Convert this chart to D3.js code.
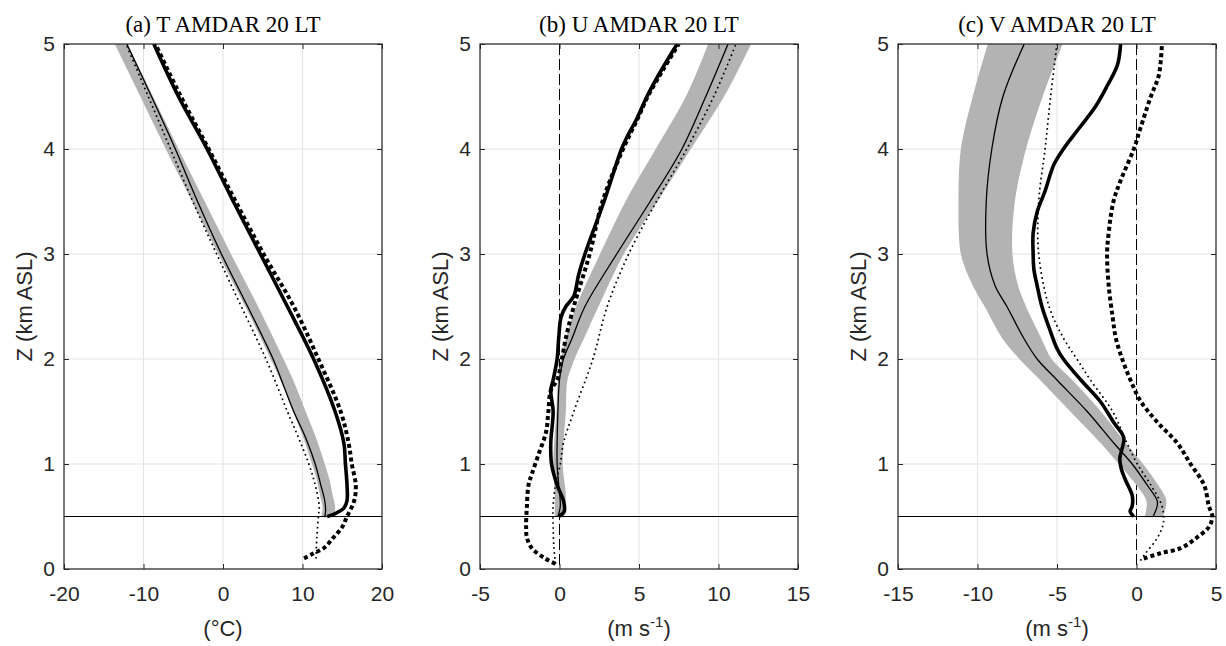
<!DOCTYPE html>
<html>
<head>
<meta charset="utf-8">
<script src="https://cdn.jsdelivr.net/npm/d3@7"></script>
<style>
  html, body { margin: 0; padding: 0; background: #fff; }
  svg { display: block; }
</style>
</head>
<body>
<svg id="chart" width="1226" height="646"></svg>
<script>
// ---------------- DATA ----------------
const panelTitles = ["(a) T AMDAR 20 LT", "(b) U AMDAR 20 LT", "(c) V AMDAR 20 LT"];
const xDomains = [[-20, 20], [-5, 15], [-15, 5]];
const xTickValues = [[-20, -10, 0, 10, 20], [-5, 0, 5, 10, 15], [-15, -10, -5, 0, 5]];
const yTickValues = [0, 1, 2, 3, 4, 5];
const yLabel = "Z (km ASL)";
const unitLabels = ["(°C)", "(m s", "(m s"];
const boundaryLayerZ = 0.5;

// Panel (a) temperature. [z, value]
const aBandZ  = [0.5, 0.6, 0.7, 0.85, 1.0, 1.25, 1.5, 1.75, 2.0, 2.5, 3.0, 3.5, 4.0, 4.5, 5.0];
const aBandLo = [12.5, 12.6, 12.3, 11.9, 11.3, 10.2, 8.9, 7.6, 6.1, 2.9, -0.5, -3.8, -7.1, -10.3, -13.5];
const aBandHi = [13.9, 14.0, 13.7, 13.3, 12.7, 11.6, 10.3, 9.0, 7.5, 4.3, 0.9, -2.4, -5.7, -8.9, -12.1];
const aThinSolid  = [[0.5, 12.8], [0.55, 12.9], [0.65, 12.8], [0.8, 12.3], [1.0, 11.6], [1.25, 10.4], [1.5, 8.9], [1.75, 7.6], [2.0, 6.3], [2.5, 3.1], [3.0, -0.2], [3.5, -3.2], [4.0, -6.0], [4.5, -9.0], [5.0, -12.1]];
const aThinDotted = [[0.1, 11.7], [0.3, 11.8], [0.5, 12.0], [0.6, 12.1], [0.8, 11.6], [1.0, 10.8], [1.25, 9.5], [1.5, 8.1], [2.0, 5.4], [2.5, 2.3], [3.0, -0.8], [3.5, -3.8], [4.0, -6.6], [4.5, -9.4], [5.0, -12.2]];
const aThickSolid = [[0.5, 13.1], [0.52, 13.9], [0.58, 15.2], [0.65, 15.6], [0.8, 15.6], [1.0, 15.4], [1.2, 15.2], [1.5, 14.1], [2.0, 11.4], [2.5, 8.1], [3.0, 4.7], [3.5, 1.3], [4.0, -2.0], [4.5, -5.6], [5.0, -8.7]];
const aThickDotted = [[0.1, 10.2], [0.15, 11.4], [0.2, 12.7], [0.3, 13.9], [0.4, 15.0], [0.5, 15.6], [0.65, 16.5], [0.8, 16.7], [1.0, 16.2], [1.2, 15.8], [1.5, 14.8], [2.0, 12.0], [2.5, 8.9], [3.0, 5.1], [3.5, 1.6], [4.0, -1.8], [4.5, -5.3], [5.0, -8.5]];

// Panel (b) zonal wind U
const bBandZ  = [0.5, 0.7, 1.0, 1.5, 1.8, 2.0, 2.2, 2.5, 3.0, 3.5, 4.0, 4.5, 5.0];
const bBandLo = [-0.25, -0.25, -0.35, -0.15, -0.05, 0.15, 0.45, 1.1, 2.6, 4.2, 6.1, 8.0, 9.4];
const bBandHi = [0.25, 0.35, 0.15, 0.35, 0.45, 0.9, 1.5, 2.4, 4.0, 6.1, 8.2, 10.3, 12.0];
const bThinSolid  = [[0.5, -0.1], [0.6, 0.05], [0.8, -0.05], [1.0, -0.15], [1.2, -0.15], [1.5, -0.1], [1.8, 0.0], [2.0, 0.25], [2.2, 0.8], [2.5, 1.6], [3.0, 3.6], [3.5, 5.7], [4.0, 7.7], [4.5, 9.2], [5.0, 10.6]];
const bThinDotted = [[0.05, -0.25], [0.2, -0.35], [0.4, -0.4], [0.6, -0.4], [0.8, -0.25], [1.0, 0.05], [1.2, 0.25], [1.5, 0.9], [2.0, 2.1], [2.5, 3.0], [3.0, 4.35], [3.5, 6.1], [4.0, 8.0], [4.5, 9.7], [5.0, 11.1]];
const bThickSolid = [[0.5, -0.05], [0.55, 0.3], [0.65, 0.25], [0.8, -0.15], [1.0, -0.5], [1.2, -0.55], [1.5, -0.4], [1.7, -0.55], [1.8, -0.4], [2.0, -0.15], [2.2, -0.05], [2.4, 0.1], [2.5, 0.4], [2.6, 0.9], [2.8, 1.2], [3.0, 1.6], [3.5, 2.8], [4.0, 3.9], [4.1, 4.2], [4.3, 4.9], [4.5, 5.5], [4.75, 6.4], [5.0, 7.4]];
const bThickDotted = [[0.05, -0.25], [0.1, -0.9], [0.2, -1.75], [0.3, -2.05], [0.4, -2.1], [0.6, -2.05], [0.8, -1.95], [0.9, -1.75], [1.1, -1.3], [1.3, -0.85], [1.5, -0.7], [1.7, -0.55], [1.8, -0.15], [2.0, 0.15], [2.2, 0.4], [2.5, 0.9], [3.0, 1.9], [3.5, 2.7], [4.0, 4.0], [4.3, 4.95], [4.5, 5.55], [4.75, 6.5], [5.0, 7.5]];

// Panel (c) meridional wind V
const cBandZ  = [0.5, 0.65, 0.8, 1.0, 1.2, 1.5, 1.8, 2.0, 2.2, 2.5, 2.7, 3.0, 3.5, 4.0, 4.5, 5.0];
const cBandLo = [0.57, 0.67, 0.05, -1.05, -2.2, -4.1, -6.0, -7.3, -8.4, -9.5, -10.25, -11.0, -11.15, -11.0, -10.25, -9.3];
const cBandHi = [1.6, 1.83, 1.3, 0.35, -0.75, -2.3, -4.1, -5.4, -6.05, -7.0, -7.5, -7.85, -7.7, -7.0, -5.95, -4.7];
const cThinSolid  = [[0.5, 1.05], [0.6, 1.3], [0.65, 1.3], [0.8, 0.67], [1.0, -0.27], [1.2, -1.43], [1.5, -3.1], [1.8, -5.0], [2.0, -6.25], [2.2, -7.1], [2.5, -8.15], [2.7, -8.9], [3.0, -9.4], [3.5, -9.45], [4.0, -9.1], [4.5, -8.4], [5.0, -7.06]];
const cThinDotted = [[0.08, 0.25], [0.15, 0.57], [0.25, 1.1], [0.35, 1.5], [0.45, 1.7], [0.6, 1.6], [0.8, 0.9], [1.0, 0.05], [1.2, -0.6], [1.5, -1.5], [1.8, -2.9], [2.0, -3.75], [2.2, -4.6], [2.5, -5.5], [3.0, -6.15], [3.5, -6.15], [4.0, -5.75], [4.5, -5.4], [5.0, -5.0]];
const cThickSolid = [[0.5, -0.17], [0.55, -0.4], [0.6, -0.27], [0.7, -0.27], [0.85, -0.7], [0.95, -0.95], [1.05, -1.05], [1.15, -0.9], [1.25, -0.8], [1.4, -1.45], [1.6, -2.3], [1.8, -3.5], [2.0, -4.6], [2.1, -5.0], [2.3, -5.5], [2.5, -5.95], [2.7, -6.25], [2.85, -6.45], [3.0, -6.5], [3.2, -6.5], [3.4, -6.25], [3.6, -5.75], [3.85, -5.2], [4.0, -4.6], [4.2, -3.6], [4.4, -2.6], [4.6, -1.85], [4.8, -1.2], [5.0, -1.0]];
const cThickDotted = [[0.1, 0.46], [0.15, 1.5], [0.2, 2.8], [0.3, 3.8], [0.4, 4.55], [0.5, 4.77], [0.6, 4.55], [0.8, 4.25], [1.0, 3.4], [1.2, 2.56], [1.4, 1.3], [1.6, 0.25], [1.8, -0.38], [2.0, -0.9], [2.2, -1.3], [2.4, -1.5], [2.7, -1.75], [3.0, -1.85], [3.2, -1.75], [3.5, -1.45], [3.7, -1.0], [4.0, -0.17], [4.2, 0.25], [4.5, 0.9], [4.7, 1.4], [5.0, 1.6]];

// ---------------- LAYOUT ----------------
const panelLeft = [64, 480, 898];
const plotW = 318;
const plotTop = 44, plotBottom = 569;
const textColor = "#262626";
const sansFont = "'Liberation Sans', Arial, Helvetica, sans-serif";
const serifFont = "'Liberation Serif', 'Times New Roman', serif";
const fmtTick = d => String(d); // plain hyphen-minus like the reference

const panels = [
  { band: [aBandZ, aBandLo, aBandHi], thinSolid: aThinSolid, thinDotted: aThinDotted, thickSolid: aThickSolid, thickDotted: aThickDotted, zeroLine: false },
  { band: [bBandZ, bBandLo, bBandHi], thinSolid: bThinSolid, thinDotted: bThinDotted, thickSolid: bThickSolid, thickDotted: bThickDotted, zeroLine: true },
  { band: [cBandZ, cBandLo, cBandHi], thinSolid: cThinSolid, thinDotted: cThinDotted, thickSolid: cThickSolid, thickDotted: cThickDotted, zeroLine: true }
];

const svg = d3.select("#chart");
const y = d3.scaleLinear().domain([0, 5]).range([plotBottom, plotTop]);

panels.forEach((p, i) => {
  const x0 = panelLeft[i];
  const x = d3.scaleLinear().domain(xDomains[i]).range([x0, x0 + plotW]);
  const g = svg.append("g");

  const clipId = "clip" + i;
  svg.append("clipPath").attr("id", clipId)
    .append("rect").attr("x", x0).attr("y", plotTop).attr("width", plotW).attr("height", plotBottom - plotTop);

  // grid
  const grid = g.append("g").attr("stroke", "#e3e3e3").attr("stroke-width", 1);
  xTickValues[i].forEach(t => {
    grid.append("line").attr("x1", x(t)).attr("x2", x(t)).attr("y1", plotTop).attr("y2", plotBottom);
  });
  yTickValues.forEach(t => {
    grid.append("line").attr("x1", x0).attr("x2", x0 + plotW).attr("y1", y(t)).attr("y2", y(t));
  });

  const data = g.append("g").attr("clip-path", `url(#${clipId})`);

  if (p.zeroLine) {
    data.append("line").attr("x1", x(0)).attr("x2", x(0)).attr("y1", plotTop).attr("y2", plotBottom)
      .attr("stroke", "#000").attr("stroke-width", 1).attr("stroke-dasharray", "11,4");
  }

  // gray band
  const [bz, blo, bhi] = p.band;
  const bandRows = bz.map((z, k) => ({ z: z, lo: blo[k], hi: bhi[k] }));
  data.append("path").datum(bandRows)
    .attr("d", d3.area().y(d => y(d.z)).x0(d => x(d.lo)).x1(d => x(d.hi)).curve(d3.curveCatmullRom))
    .attr("fill", "#b3b3b3").attr("stroke", "#b3b3b3").attr("stroke-width", 1.5);

  const line = d3.line().x(d => x(d[1])).y(d => y(d[0])).curve(d3.curveCatmullRom.alpha(0.5));

  data.append("path").datum(p.thinSolid).attr("d", line)
    .attr("fill", "none").attr("stroke", "#000").attr("stroke-width", 1.3);
  data.append("path").datum(p.thinDotted).attr("d", line)
    .attr("fill", "none").attr("stroke", "#000").attr("stroke-width", 1.7).attr("stroke-dasharray", "1.7,3.3");
  data.append("path").datum(p.thickSolid).attr("d", line)
    .attr("fill", "none").attr("stroke", "#000").attr("stroke-width", 3.6).attr("stroke-linejoin", "round");
  data.append("path").datum(p.thickDotted).attr("d", line)
    .attr("fill", "none").attr("stroke", "#000").attr("stroke-width", 4).attr("stroke-dasharray", "4,3");

  data.append("line").attr("x1", x0).attr("x2", x0 + plotW).attr("y1", y(boundaryLayerZ)).attr("y2", y(boundaryLayerZ))
    .attr("stroke", "#000").attr("stroke-width", 1);

  // axes
  const axB = g.append("g").attr("transform", `translate(0,${plotBottom})`)
    .call(d3.axisBottom(x).tickValues(xTickValues[i]).tickSizeInner(-5).tickSizeOuter(0).tickPadding(17).tickFormat(fmtTick));
  const axT = g.append("g").attr("transform", `translate(0,${plotTop})`)
    .call(d3.axisTop(x).tickValues(xTickValues[i]).tickSizeInner(-5).tickSizeOuter(0).tickFormat(""));
  const axL = g.append("g").attr("transform", `translate(${x0},0)`)
    .call(d3.axisLeft(y).tickValues(yTickValues).tickSizeInner(-5).tickSizeOuter(0).tickPadding(9).tickFormat(fmtTick));
  const axR = g.append("g").attr("transform", `translate(${x0 + plotW},0)`)
    .call(d3.axisRight(y).tickValues(yTickValues).tickSizeInner(-5).tickSizeOuter(0).tickFormat(""));
  [axB, axT, axL, axR].forEach(a => {
    a.select(".domain").remove();
    a.selectAll("line").attr("stroke", textColor);
    a.selectAll("text").attr("fill", textColor).style("font-family", sansFont).style("font-size", "21px");
  });

  g.append("rect").attr("x", x0).attr("y", plotTop).attr("width", plotW).attr("height", plotBottom - plotTop)
    .attr("fill", "none").attr("stroke", textColor).attr("stroke-width", 1.2);

  // title
  g.append("text").attr("x", x0 + plotW / 2).attr("y", 32).attr("text-anchor", "middle")
    .style("font-family", serifFont).style("font-size", "23px").attr("fill", "#000")
    .text(panelTitles[i]);

  // y label
  g.append("text").attr("transform", `translate(${x0 - 40},${(plotTop + plotBottom) / 2}) rotate(-90)`)
    .attr("text-anchor", "middle").attr("dy", "0.35em")
    .style("font-family", sansFont).style("font-size", "22px").attr("fill", textColor)
    .text(yLabel);

  // x unit label
  const ul = g.append("text").attr("x", x0 + plotW / 2).attr("y", 636).attr("text-anchor", "middle")
    .style("font-family", sansFont).style("font-size", "22px").attr("fill", textColor);
  if (i === 0) {
    ul.text(unitLabels[0]);
  } else {
    ul.append("tspan").text(unitLabels[i]);
    ul.append("tspan").attr("dy", "-9").style("font-size", "15px").text("-1");
    ul.append("tspan").attr("dy", "9").text(")");
  }
});
</script>
</body>
</html>
